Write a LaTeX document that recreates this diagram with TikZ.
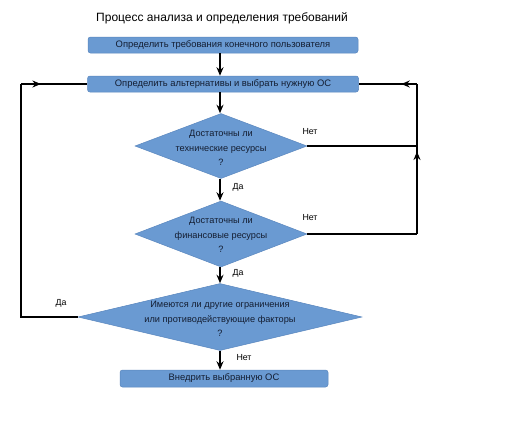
\documentclass[tikz,border=0pt]{standalone}
\usepackage{fontspec}
\setmainfont{Liberation Sans}
\usetikzlibrary{shapes.geometric,arrows.meta,decorations.markings}
\definecolor{boxblue}{RGB}{106,154,210}
\definecolor{boxedge}{RGB}{90,135,190}
\definecolor{txt}{RGB}{20,30,50}
\tikzset{
  procbox/.style={draw=boxedge, fill=boxblue, rounded corners=2.5pt, line width=0.5pt, inner sep=0pt, font=\fontsize{9.4}{11}\selectfont, text=txt},
  decbox/.style={shape=diamond, draw=boxedge, fill=boxblue, line width=0.5pt, inner sep=0pt},
  dectext/.style={align=center, font=\fontsize{9.2}{14.5}\selectfont, text=txt},
  lab/.style={font=\fontsize{8.8}{10}\selectfont, text=black},
  flow/.style={line width=1.5pt, -{Stealth[length=8.5pt,width=7pt]}},
  loopline/.style={line width=1.5pt},
  midarr/.style={line width=1.5pt, decoration={markings, mark=at position #1 with {\arrow{Stealth[length=8.5pt,width=7pt]}}}, postaction={decorate}}
}
\begin{document}
\begin{tikzpicture}[x=1pt,y=-1pt]
\useasboundingbox[fill=white] (0,0) rectangle (508,426);
\node[font=\fontsize{12}{14}\selectfont] (title) at (222,18.5) {Процесс анализа и определения требований};
\node[procbox, minimum width=270pt, minimum height=16pt] (b1) at (223,45) {Определить требования конечного пользователя};
\node[procbox, minimum width=271pt, minimum height=16pt] (b2) at (223,84) {Определить альтернативы и выбрать нужную ОС};
\node[decbox, minimum width=172pt, minimum height=65pt] (d1) at (221,146) {};
\node[dectext] (t1) at (221,148) {Достаточны ли\\технические ресурсы\\?};
\node[decbox, minimum width=172pt, minimum height=66pt] (d2) at (221,234) {};
\node[dectext] (t2) at (221,235) {Достаточны ли\\финансовые ресурсы\\?};
\node[decbox, minimum width=284pt, minimum height=67pt] (d3) at (220,317) {};
\node[dectext] (t3) at (220,319) {Имеются ли другие ограничения\\или противодействующие факторы\\?};
\node[procbox, minimum width=208pt, minimum height=17pt] (b3) at (224,378.5) {Внедрить выбранную ОС};

\coordinate (cL) at (21,84);
\coordinate (cLb) at (21,317);
\coordinate (cR) at (417,84);
\coordinate (cR1) at (417,146);
\coordinate (cR2) at (417,234);

\draw[flow] (b1.south -| 220,0) -- (b2.north -| 220,0);
\draw[flow] (b2.south -| 220,0) -- (d1.north -| 220,0);
\draw[flow] (d1.south -| 220,0) -- (d2.north -| 220,0);
\draw[flow] (d2.south -| 220,0) -- (d3.north -| 220,0);
\draw[flow] (d3.south -| 220,0) -- (b3.north -| 220,0);

\draw[loopline] (d3.west) -- (cLb) -- (cL);
\draw[midarr=0.3] (cL) -- (b2.west);
\draw[loopline] (d1.east) -- (cR1);
\draw[loopline] (d2.east) -- (cR2);
\draw[midarr=0.55] (cR2) -- (cR);
\draw[midarr=0.27] (cR) -- (b2.east);

\node[lab] (n1) at (310,132) {Нет};
\node[lab] (n2) at (310,218) {Нет};
\node[lab] (y1) at (238,187) {Да};
\node[lab] (y2) at (238,273) {Да};
\node[lab] (y3) at (61,303) {Да};
\node[lab] (n3) at (244,358) {Нет};
\end{tikzpicture}
\end{document}
